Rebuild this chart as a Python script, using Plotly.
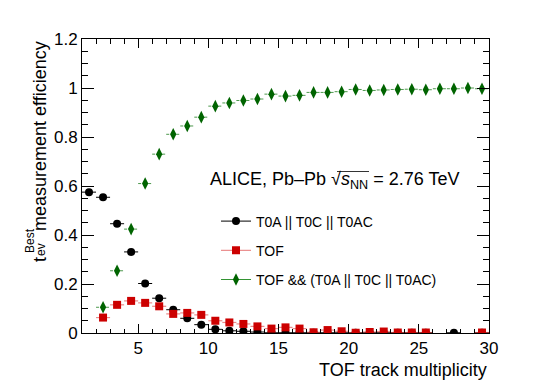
import plotly.graph_objects as go

# bin centres, TOF track multiplicity (bins of width 1)
x_t0 = [1.5, 2.5, 3.5, 4.5, 5.5, 6.5, 7.5, 8.5, 9.5, 10.5, 11.5, 12.5, 13.5, 14.5, 15.5,
        16.5, 17.5, 18.5, 19.5, 20.5, 21.5, 22.5, 23.5, 24.5, 25.5, 27.5, 29.5]
eff_t0 = [0.575, 0.554, 0.446, 0.331, 0.202, 0.142, 0.095, 0.060, 0.034, 0.015, 0.009, 0.007,
          0.004, 0.001, 0.001, 0.001, 0.001, 0.001, 0.001, 0.001, 0.001, 0.001, 0.001, 0.001,
          0.001, 0.001, 0.001]

x_tof = [2.5, 3.5, 4.5, 5.5, 6.5, 7.5, 8.5, 9.5, 10.5, 11.5, 12.5, 13.5, 14.5, 15.5, 16.5,
         17.5, 18.5, 19.5, 20.5, 21.5, 22.5, 23.5, 24.5, 25.5, 29.5]
eff_tof = [0.063, 0.115, 0.131, 0.123, 0.109, 0.078, 0.082, 0.074, 0.050, 0.043, 0.037, 0.027,
           0.018, 0.023, 0.018, 0.003, 0.012, 0.007, 0.001, 0.004, 0.006, 0.002, 0.002, 0.002,
           0.002]

x_and = [2.5, 3.5, 4.5, 5.5, 6.5, 7.5, 8.5, 9.5, 10.5, 11.5, 12.5, 13.5, 14.5, 15.5, 16.5,
         17.5, 18.5, 19.5, 20.5, 21.5, 22.5, 23.5, 24.5, 25.5, 26.5, 27.5, 28.5, 29.5]
eff_and = [0.105, 0.254, 0.424, 0.610, 0.730, 0.811, 0.845, 0.881, 0.926, 0.939, 0.949, 0.955,
           0.975, 0.967, 0.970, 0.982, 0.982, 0.985, 0.994, 0.990, 0.992, 0.994, 0.995, 0.993,
           0.997, 0.997, 1.0, 0.997]

names = ["T0A || T0C || T0AC", "TOF", "TOF && (T0A || T0C || T0AC)"]

BLACK = "black"
RED = "#cc0000"
GREEN = "#006400"
FONT = "Liberation Sans, Arial, sans-serif"

fig = go.Figure()

# green: horizontal bin-width bars are dashed, so draw them as a dashed line trace
gx, gy = [], []
for xv, yv in zip(x_and, eff_and):
    gx += [xv - 0.5, xv + 0.5, None]
    gy += [yv, yv, None]
fig.add_trace(go.Scatter(x=gx, y=gy, mode="lines", showlegend=False, hoverinfo="skip",
                         line=dict(color="rgba(0,110,0,0.7)", width=1, dash="3px,2px")))

fig.add_trace(go.Scatter(x=x_t0, y=eff_t0, mode="markers", showlegend=False,
                         marker=dict(symbol="circle", size=8, color=BLACK),
                         error_x=dict(type="constant", value=0.5, color=BLACK, thickness=1, width=0)))
fig.add_trace(go.Scatter(x=x_tof, y=eff_tof, mode="markers", showlegend=False,
                         marker=dict(symbol="square", size=8, color=RED),
                         error_x=dict(type="constant", value=0.5, color="rgba(220,60,60,0.6)",
                                      thickness=1.2, width=0)))
fig.add_trace(go.Scatter(x=x_and, y=eff_and, mode="markers", showlegend=False,
                         marker=dict(symbol="diamond-tall", size=9, color=GREEN)))

# legend entries (line + marker like the ROOT "lp" option)
leg = [(names[0], BLACK, BLACK, "circle", 8),
       (names[1], "rgba(220,60,60,0.7)", RED, "square", 8),
       (names[2], "rgba(0,120,0,0.8)", GREEN, "diamond-tall", 9)]
for i, (nm, lc, mc, sym, sz) in enumerate(leg):
    fig.add_trace(go.Scatter(x=[None], y=[None], mode="lines+markers", name=nm,
                             legendgroup="g%d" % i,
                             line=dict(color=lc, width=1),
                             marker=dict(symbol=sym, size=sz, color=mc)))

axis_common = dict(showline=True, linecolor="black", linewidth=1, mirror="allticks",
                   ticks="inside", tickcolor="black", tickwidth=1, showgrid=False,
                   zeroline=False, tickfont=dict(size=17, color="black"))

fig.update_xaxes(range=[1, 30], dtick=5, tick0=0, ticklen=9,
                 minor=dict(dtick=1, ticklen=4.5, ticks="inside", tickcolor="black"),
                 **axis_common)
fig.update_yaxes(range=[0, 1.2], dtick=0.2, tick0=0, ticklen=12,
                 minor=dict(dtick=0.05, ticklen=6, ticks="inside", tickcolor="black"),
                 **axis_common)

# page body adds 8px, so the plot frame lands at 82..489 x 39..333 on screen
W, H = 545, 392
L, T = 74, 31
pw, ph = 407, 294
R, B = W - L - pw, H - T - ph


def px(sx):
    return (sx - 8 - L) / pw


def py(sy):
    return (T + ph - (sy - 8)) / ph


ann = [
    dict(text="TOF track multiplicity", x=1, y=py(370), xanchor="right", yanchor="middle",
         font=dict(size=18)),
    dict(text="measurement efficiency", x=px(40), y=1, xanchor="center", yanchor="top",
         textangle=-90, font=dict(size=18)),
    dict(text="t", x=px(40), y=py(260), xanchor="center", yanchor="middle",
         textangle=-90, font=dict(size=18)),
    dict(text="ev", x=px(41), y=py(250), xanchor="center", yanchor="middle",
         textangle=-90, font=dict(size=12)),
    dict(text="Best", x=px(30), y=py(241), xanchor="center", yanchor="middle",
         textangle=-90, font=dict(size=12)),
    dict(text="ALICE, Pb\u2013Pb \u221a<i>s</i><sub>NN</sub> = 2.76 TeV", x=px(208), y=py(180),
         xanchor="left", yanchor="middle", font=dict(size=18)),
]
for a in ann:
    a.update(xref="paper", yref="paper", showarrow=False)
    a["font"].update(family=FONT, color="black")

fig.update_layout(
    width=W, height=H,
    margin=dict(l=L, r=R, t=T, b=B),
    paper_bgcolor="white", plot_bgcolor="white",
    font=dict(family=FONT, color="black"),
    annotations=ann,
    # overline of the square root sign
    shapes=[dict(type="line", xref="paper", yref="paper", x0=px(337), x1=px(369),
                 y0=py(171.5), y1=py(171.5), line=dict(color="black", width=0.8))],
    legend=dict(x=px(216), y=py(205.5), xanchor="left", yanchor="top",
                bgcolor="rgba(0,0,0,0)", borderwidth=0, tracegroupgap=8,
                font=dict(size=14, family=FONT, color="black")),
)

fig.write_html("out.html")
